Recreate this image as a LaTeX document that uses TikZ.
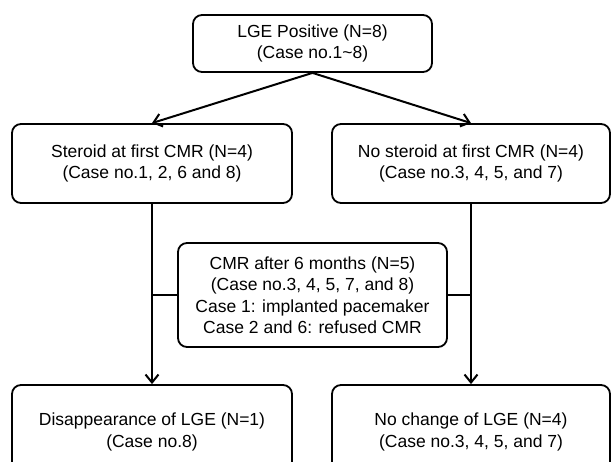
\documentclass[tikz,border=0pt]{standalone}
\usepackage{fontspec}
\setmainfont{Liberation Sans}
\usetikzlibrary{arrows.meta}

\begin{document}
\begin{tikzpicture}[x=1pt, y=1pt, box/.style={draw, line width=1.8pt, rounded corners=9pt, align=center, font=\fontsize{17.5}{21.5}\selectfont, inner sep=0pt}, arr/.style={-{Straight Barb[length=8pt,width=13pt]}, line width=2pt}, ln/.style={line width=2pt}]
\useasboundingbox (0,0) rectangle (612,462);
\clip (0,0) rectangle (612,462);
\node[box, minimum width=239pt, minimum height=57pt] (pos) at (312.5,418.5) {LGE Positive (N=8)\\(Case no.1\textasciitilde 8)};
\node[box, minimum width=280pt, minimum height=79pt] (ster) at (152,298.5) {Steroid at first CMR (N=4)\\(Case no.1, 2, 6 and 8)};
\node[box, minimum width=278pt, minimum height=79pt] (noster) at (471,298.5) {No steroid at first CMR (N=4)\\(Case no.3, 4, 5, and 7)};
\node[box, minimum width=269pt, minimum height=104pt] (fup) at (312.5,167) {CMR after 6 months (N=5)\\(Case no.3, 4, 5, 7, and 8)\\Case 1: implanted pacemaker\\Case 2 and 6: refused CMR};
\node[box, minimum width=280pt, minimum height=94pt] (gone) at (152,30) {Disappearance of LGE (N=1)\\(Case no.8)};
\node[box, minimum width=278pt, minimum height=94pt] (same) at (471,30) {No change of LGE (N=4)\\(Case no.3, 4, 5, and 7)};
\draw[arr] (pos.south) -- (ster.north); \draw[arr] (pos.south) -- (noster.north);
\draw[arr] (ster.south) -- (gone.north); \draw[arr] (noster.south) -- (same.north);
\draw[ln] (fup.west) -- (fup.west -| ster.south); \draw[ln] (fup.east) -- (fup.east -| noster.south);
\end{tikzpicture}
\end{document}
